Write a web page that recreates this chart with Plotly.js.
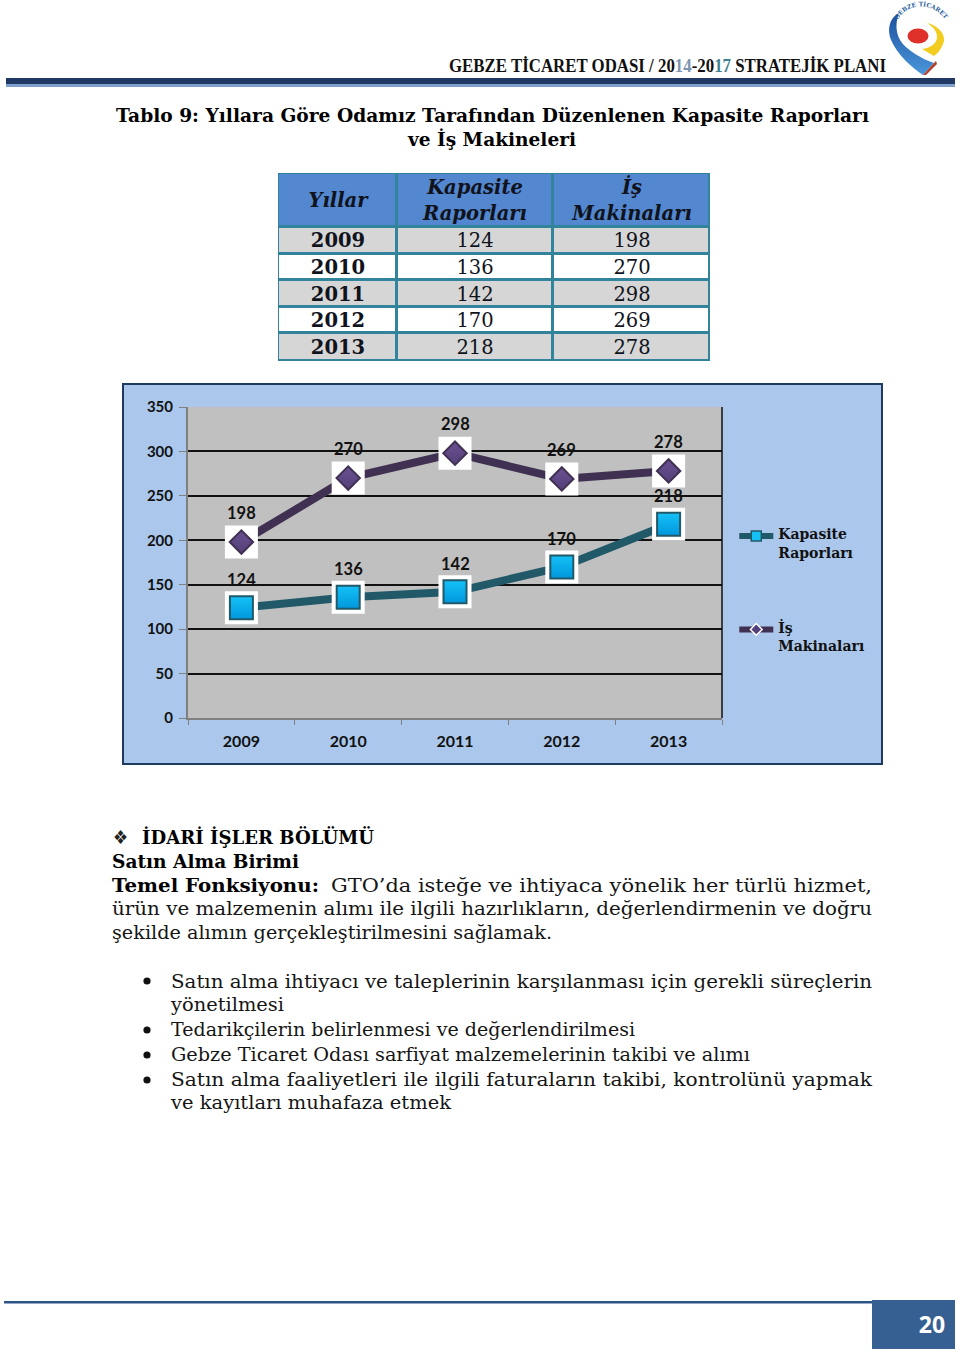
<!DOCTYPE html>
<html lang="tr"><head><meta charset="utf-8">
<script src="https://cdn.plot.ly/plotly-3.0.1.min.js"></script>
<style>
html,body{margin:0;padding:0;background:#fff;width:960px;height:1353px;overflow:hidden}
#page{position:absolute;left:0;top:0}
#tbl{position:absolute;left:278px;top:173px;width:432px;height:188px}
#chart{position:absolute;left:122px;top:383px;width:761px;height:382px}
#frame{position:absolute;left:122px;top:383px;width:761px;height:382px;box-sizing:border-box;border:2px solid #1f3a5f;pointer-events:none}
</style></head><body>
<svg id="page" width="960" height="1353" xmlns="http://www.w3.org/2000/svg"></svg>
<div id="tbl"></div>
<div id="chart"></div>
<div id="frame"></div>
<script>
const years=['2009','2010','2011','2012','2013'];
const kapasite=[124,136,142,170,218];
const makina=[198,270,298,269,278];
const nameK='<b>Kapasite<br>Raporları</b>';
const nameM='<b>İş<br>Makinaları</b>';
const headY='Yıllar';
const headK='Kapasite<br>Raporları';
const headM='İş<br>Makinaları';

const SERIF='"DejaVu Serif",serif';
const LB='Lato,"Open Sans",sans-serif';

// table as a heatmap of cells on numeric axes
const colEdges=[0,119,275,432];
const rowEdges=[0,54,80.6,107.2,133.8,160.4,188];
const cellZ=[[0,0,0]].concat(years.map((y,i)=>[1+i%2,1+i%2,1+i%2]));
const cellText=[[headY,headK,headM].map(s=>'<b><i>'+s+'</i></b>')]
  .concat(years.map((y,i)=>['<b>'+y+'</b>',String(kapasite[i]),String(makina[i])]));
Plotly.newPlot('tbl',[{type:'heatmap',x:colEdges,y:rowEdges,z:cellZ,text:cellText,texttemplate:'%{text}',
  textfont:{family:SERIF,size:19.5,color:'#10131c'},xgap:3,ygap:3,zmin:0,zmax:2,showscale:false,hoverinfo:'skip',
  colorscale:[[0,'#5387cf'],[0.5,'#d6d6d6'],[1,'#ffffff']]}],
 {width:432,height:188,margin:{l:0,r:0,t:0,b:0},paper_bgcolor:'#31849b',plot_bgcolor:'#31849b',
  xaxis:{visible:false,range:[0,432]},yaxis:{visible:false,range:[188,0]}},{displayModeBar:false,staticPlot:true});

// chart
const tealL='#215968',purL='#403152';
const lineOnly=(ys,lc)=>({x:years,y:ys,type:'scatter',mode:'lines',showlegend:false,hoverinfo:'skip',line:{color:lc,width:8}});
const white=(ys)=>({x:years,y:ys,type:'scatter',mode:'markers',showlegend:false,hoverinfo:'skip',
  marker:{symbol:'square',size:33,color:'#ffffff'}});
const dots=(ys,sym,sz,col,grad,bc)=>({x:years,y:ys,type:'scatter',mode:'markers',showlegend:false,hoverinfo:'skip',
  marker:{symbol:sym,size:sz,color:col,gradient:{type:'vertical',color:grad},line:{color:bc,width:2}}});
const key=(name,g,lc,sym,sz,col,bc)=>({x:[years[0]],y:[null],name:name,type:'scatter',mode:'lines+markers',legendgroup:g,
  line:{color:lc,width:6},marker:{symbol:sym,size:sz,color:col,line:{color:bc,width:1.5}}});
const dataLabels=(ys,shift)=>ys.map((v,i)=>({x:i,y:v,text:'<b>'+v+'</b>',showarrow:false,xref:'x',yref:'y',yshift:shift,
   font:{family:LB,size:16.5,color:'#111'}}));
const traces=[
 lineOnly(kapasite,tealL),white(kapasite),
 dots(kapasite,'square',23,'#15c1f7','#0097dc',tealL),
 lineOnly(makina,purL),white(makina),
 dots(makina,'diamond',18,'#6a5190','#54407a',purL),
 key(nameK,'k',tealL,'square',10,'#15c1f7',tealL),
 key(nameM,'m',purL,'diamond',9,'#54407a','#ffffff')
];
Plotly.newPlot('chart',traces,{
 width:761,height:382,margin:{l:66,r:161,t:23.5,b:46.5},
 paper_bgcolor:'#abc8ec',plot_bgcolor:'#c0c0c0',
 showlegend:true,
 legend:{x:1.023,xanchor:'left',y:0.642,yanchor:'top',bgcolor:'rgba(0,0,0,0)',borderwidth:0,itemwidth:34,
   traceorder:'grouped',tracegroupgap:54,font:{family:SERIF,size:14,color:'#111'}},
 xaxis:{type:'category',range:[-0.5,4.5],tickson:'boundaries',ticks:'outside',ticklen:5,tickcolor:'#808080',
   showgrid:false,showline:true,linecolor:'#808080',linewidth:2,
   tickfont:{family:LB,size:16,weight:700,color:'#111'},ticklabelstandoff:8},
 yaxis:{range:[0,350],tick0:0,dtick:50,ticks:'outside',ticklen:7,tickcolor:'#808080',
   showgrid:true,gridcolor:'#111111',gridwidth:2,zeroline:false,showline:true,linecolor:'#808080',linewidth:2,
   tickfont:{family:LB,size:15,weight:700,color:'#111'},ticklabelstandoff:3},
 shapes:[{type:'line',xref:'paper',yref:'paper',x0:1,x1:1,y0:0,y1:1,line:{color:'#111',width:1.5}}],
 annotations:[...dataLabels(kapasite,28),...dataLabels(makina,29)]
},{displayModeBar:false,staticPlot:true}).then(()=>{
 // legend keys sit level with the first line of their two-line names
 document.querySelectorAll('#chart .legend .legendsymbols, #chart .legend .legendlines').forEach(g=>g.setAttribute('transform','translate(0,-7)'));
});

// page text
const NS='http://www.w3.org/2000/svg';
const svg=document.getElementById('page');
function el(n,a,t){const e=document.createElementNS(NS,n);for(const k in a)e.setAttribute(k,a[k]);if(t)e.textContent=t;svg.appendChild(e);return e;}
function line(t,x,y,w,o={}){el('text',Object.assign({x,y,textLength:w,lengthAdjust:'spacingAndGlyphs','font-family':SERIF,'font-size':18.5,fill:'#151515'},o),t);}
const B={'font-weight':700,fill:'#000'};
// header
el('rect',{x:6,y:78,width:949,height:6,fill:'#1f3864'});
el('rect',{x:6,y:84,width:949,height:3,fill:'#7f9fcc'});
const hd=el('text',{x:449,y:72,textLength:437,lengthAdjust:'spacingAndGlyphs','font-family':'"Liberation Serif",serif','font-size':18,'font-weight':700,fill:'#111'});
hd.innerHTML='GEBZE TİCARET ODASI / 20<tspan fill="#7b93b0">14</tspan>-20<tspan fill="#3f7f8f">17</tspan> STRATEJİK PLANI';
// logo
el('defs',{}).innerHTML='<linearGradient id="bl" x1="0" y1="0" x2="0" y2="1"><stop offset="0" stop-color="#1c4f9c"/><stop offset="1" stop-color="#4a97dc"/></linearGradient><path id="arc" d="M898 20 C905 4 933 -1 947 22"/>';
el('path',{d:'M899 13 C889 18 887 30 891 40 C897 54 912 68 923 75 L934 63 C922 59 906 50 900 40 C895 31 896 21 899 13Z',fill:'url(#bl)'});
el('path',{d:'M926 75 L923 75 L934 63 L936 61 L937 64Z',fill:'#b2402c'});
el('path',{d:'M927 23 C937 25 945 33 944 41 C942 49 937 54 934 56 L922 49 C930 48 937 44 937 37 C937 31 933 27 927 23Z',fill:'#f2cc1f'});
el('ellipse',{cx:918,cy:36,rx:10.5,ry:7.5,fill:'#e0302a'});
const lg=el('text',{'font-family':SERIF,'font-size':6,'font-weight':700,fill:'#2b5f9f'});
lg.innerHTML='<textPath href="#arc">GEBZE TİCARET ODASI</textPath>';
// titles
line('Tablo 9: Yıllara Göre Odamız Tarafından Düzenlenen Kapasite Raporları',116,122,753,B);
line('ve İş Makineleri',408,146,168,B);
// body
line('❖',113,844,15,{'font-size':19,fill:'#222'});
line('İDARİ İŞLER BÖLÜMÜ',142,844,232,B);
line('Satın Alma Birimi',112,868,187,B);
line('Temel Fonksiyonu:',112,892,207,B);
line('GTO’da isteğe ve ihtiyaca yönelik her türlü hizmet,',331,892,541);
line('ürün ve malzemenin alımı ile ilgili hazırlıkların, değerlendirmenin ve doğru',112,915,760);
line('şekilde alımın gerçekleştirilmesini sağlamak.',112,939,440);
line('Satın alma ihtiyacı ve taleplerinin karşılanması için gerekli süreçlerin',171,988,701);
line('yönetilmesi',171,1011,113);
line('Tedarikçilerin belirlenmesi ve değerlendirilmesi',171,1036,464);
line('Gebze Ticaret Odası sarfiyat malzemelerinin takibi ve alımı',171,1061,579);
line('Satın alma faaliyetleri ile ilgili faturaların takibi, kontrolünü yapmak',171,1086,701);
line('ve kayıtları muhafaza etmek',171,1109,280);
[981,1030,1055,1080].forEach(y=>el('circle',{cx:147,cy:y,r:3.6,fill:'#111'}));
// footer
el('rect',{x:4,y:1301,width:868,height:2.5,fill:'#2c5487'});
el('rect',{x:872,y:1300,width:83,height:49,fill:'#366092'});
el('text',{x:932,y:1333,'text-anchor':'middle','font-family':'"Open Sans",sans-serif','font-size':23,'font-weight':700,fill:'#fff'},'20');
</script>
</body></html>
